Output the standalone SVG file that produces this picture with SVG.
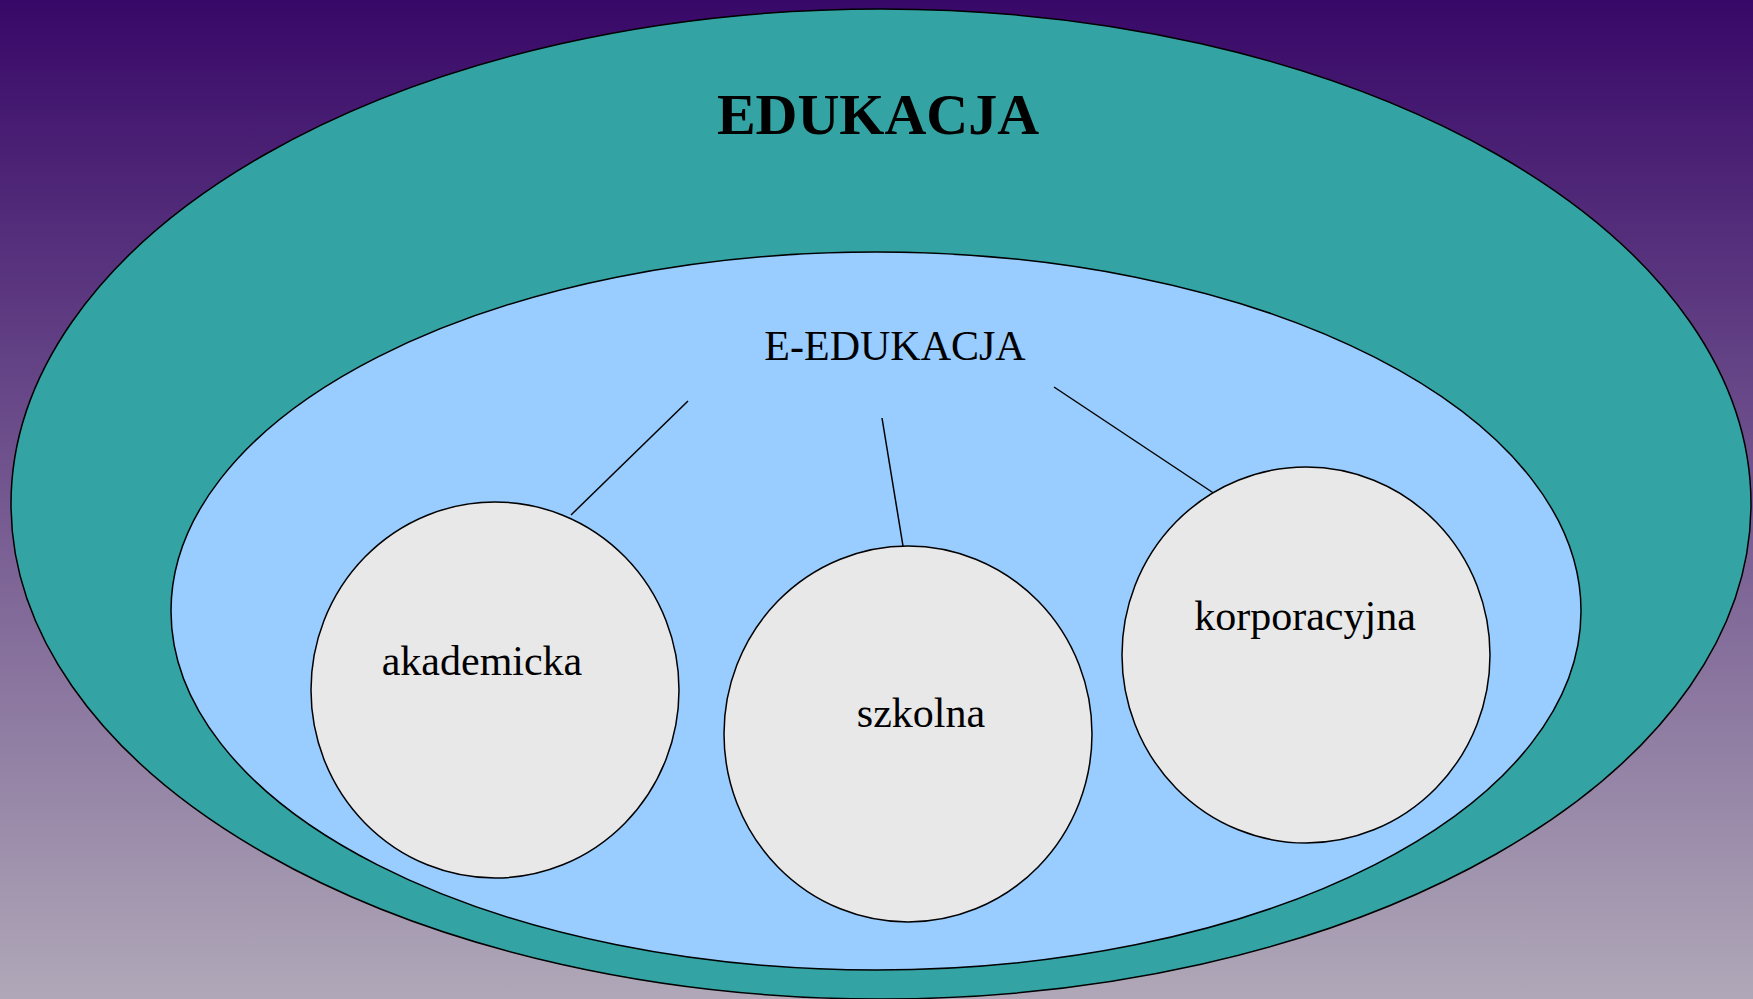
<svg xmlns="http://www.w3.org/2000/svg" width="1753" height="999" viewBox="0 0 1753 999">
  <defs>
    <linearGradient id="bg" x1="0" y1="0" x2="0" y2="1">
      <stop offset="0" stop-color="#380868"/>
      <stop offset="1" stop-color="#b0a8b8"/>
    </linearGradient>
  </defs>
  <style>
    .shape { stroke: #000; stroke-width: 1.5; }
    .circle { fill: #e8e8e8; stroke: #000; stroke-width: 1.5; }
    .label { font-family: "Liberation Serif", "Times New Roman", serif; fill: #000; text-anchor: middle; font-size: 42px; }
    .title { font-family: "Liberation Serif", "Times New Roman", serif; fill: #000; text-anchor: middle; font-size: 58px; font-weight: bold; }
    .conn { stroke: #000; stroke-width: 1.5; fill: none; }
  </style>
  <rect x="0" y="0" width="1753" height="999" fill="url(#bg)"/>
  <g id="edukacja">
    <ellipse class="shape" cx="881" cy="504" rx="870" ry="495" fill="#33a3a3"/>
    <text class="title" x="878" y="134">EDUKACJA</text>
  </g>
  <g id="e-edukacja">
    <ellipse class="shape" cx="876" cy="611" rx="705" ry="359" fill="#99ccff"/>
    <text class="label" x="895" y="360">E-EDUKACJA</text>
  </g>
  <g id="connectors">
    <line class="conn" x1="688" y1="401" x2="571" y2="515"/>
    <line class="conn" x1="882" y1="418" x2="903" y2="546"/>
    <line class="conn" x1="1054" y1="387" x2="1215" y2="494"/>
  </g>
  <g id="akademicka">
    <ellipse class="circle" cx="495" cy="690" rx="184" ry="188"/>
    <text class="label" x="482" y="675">akademicka</text>
  </g>
  <g id="szkolna">
    <ellipse class="circle" cx="908" cy="734" rx="184" ry="188"/>
    <text class="label" x="921" y="727">szkolna</text>
  </g>
  <g id="korporacyjna">
    <ellipse class="circle" cx="1306" cy="655" rx="184" ry="188"/>
    <text class="label" x="1305" y="630">korporacyjna</text>
  </g>
</svg>
